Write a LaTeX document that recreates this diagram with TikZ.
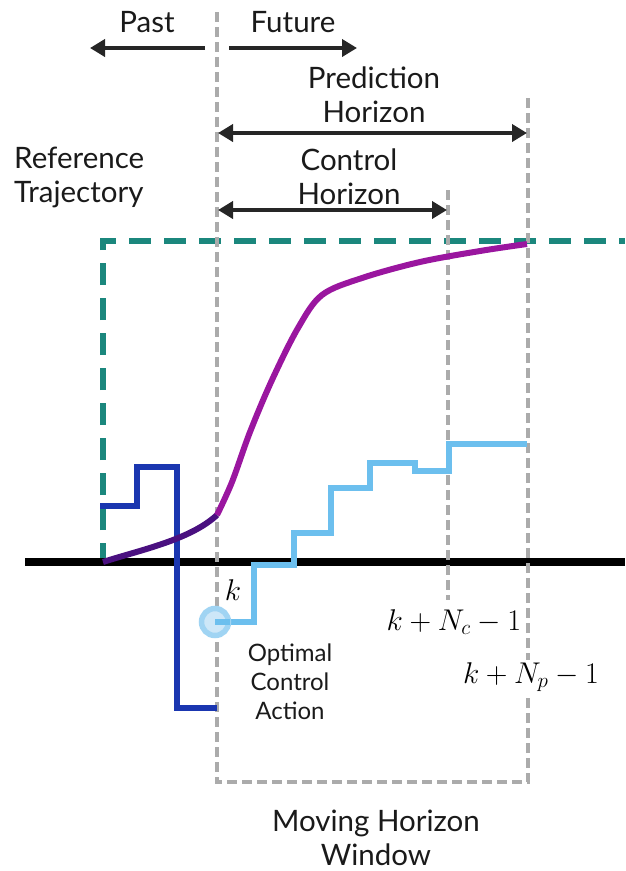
\RequirePackage{fix-cm}
\documentclass[tikz,border=0pt]{standalone}
\usepackage{fontspec}
\setmainfont{Lato}
\usetikzlibrary{arrows.meta}
\definecolor{gridgray}{HTML}{ABABAB}
\definecolor{arrowdark}{HTML}{262626}
\definecolor{refteal}{HTML}{1B877D}
\definecolor{outpurple}{HTML}{9A169F}
\definecolor{pastpurple}{HTML}{4A1080}
\definecolor{pastblue}{HTML}{1A36B0}
\definecolor{ctrlblue}{HTML}{6CBFEE}
\definecolor{circfill}{HTML}{CDE7F8}
\definecolor{circline}{HTML}{A0D4F3}
\definecolor{txt}{HTML}{1A1A1A}
\begin{document}
\begin{tikzpicture}[x=1pt,y=-1pt,
  guide/.style={draw=gridgray,line width=3.5pt,dash pattern=on 10pt off 5pt},
  harrow/.style={draw=arrowdark,line width=4pt,-{Triangle[length=15pt,width=17pt]}},
  darrow/.style={draw=arrowdark,line width=4pt,{Triangle[length=15pt,width=17pt]}-{Triangle[length=15pt,width=17pt]}},
  lbl/.style={text=txt,font={\fontsize{29.5}{34}\selectfont},align=center,inner sep=0pt},
  smalllbl/.style={text=txt,font={\fontsize{24}{29}\selectfont},align=center,inner sep=0pt},
  mathlbl/.style={text=black,font={\fontsize{30}{34}\selectfont},inner sep=2pt}]
\useasboundingbox (0,0) rectangle (625,871);
% coordinates
\coordinate (kTop) at (217,12);
\coordinate (kBot) at (217,782);
\coordinate (pTop) at (528,95);
\coordinate (pBot) at (528,782);
\coordinate (cTop) at (448,190);
\coordinate (cBot) at (448,600);
% reference trajectory
\draw[draw=refteal,line width=6pt,dash pattern=on 22pt off 13pt] (103,565) -- (103,241) -- (625,241);
% axis
\draw[black,line width=8pt] (25,562) -- (625,562);
% guide lines and window
\draw[guide] (kTop) -- (kBot) -- (pBot) -- (pTop);
\draw[guide] (cTop) -- (cBot);
% past input
\draw[pastblue,line width=5.5pt] (100,506) -- (137,506) -- (137,467) -- (177,467) -- (177,708) -- (217,708);
% predicted output
\draw[pastpurple,line width=6pt] (103,562) .. controls (140,550) and (190,540) .. (217,515);
\draw[outpurple,line width=6pt] plot[smooth,tension=0.55] coordinates {(217,515) (232,482) (250,432) (272,380) (298,328) (322,295) (362,278) (420,262) (480,251) (527,244)};
% control moves
\draw[ctrlblue,line width=5.5pt] (217,622) -- (254,622) -- (254,565) -- (294,565) -- (294,533) -- (331,533) -- (331,488) -- (370,488) -- (370,463) -- (415,463) -- (415,471) -- (449,471) -- (449,444) -- (527,444);
\node[circle,minimum size=27pt,inner sep=0pt,fill=circfill,draw=circline,line width=5.5pt] (u0) at (215,622) {};
\draw[ctrlblue,line width=5.5pt] (u0.center) -- (230,622);
% arrows
\coordinate (pastS) at (205,48);
\coordinate (pastE) at (90,48);
\coordinate (futS) at (229,48);
\coordinate (futE) at (357,48);
\draw[harrow] (pastS) -- (pastE);
\draw[harrow] (futS) -- (futE);
\coordinate (phL) at (218,133);
\coordinate (phR) at (527,133);
\draw[darrow] (phL) -- (phR);
\coordinate (chL) at (218,210);
\coordinate (chR) at (447,210);
\draw[darrow] (chL) -- (chR);
% texts
\node[lbl] (past) at (147,22) {Past};
\node[lbl] (future) at (293,22) {Future};
\node[lbl] (pred) at (374,95) {Prediction\\Horizon};
\node[lbl] (ctrl) at (349,177) {Control\\Horizon};
\node[lbl,align=left,anchor=west] (ref) at (14,177) {Reference\\Trajectory};
\node[smalllbl] (oca) at (290,682) {Optimal\\Control\\Action};
\node[lbl] (mhw) at (376,838) {Moving Horizon\\Window};
\node[mathlbl] (k) at (233,590) {$k$};
\node[mathlbl] (knc) at (454,622) {$k+N_c-1$};
\node[mathlbl,fill=white] (knp) at (531,677) {$k+N_p-1$};
\end{tikzpicture}
\end{document}
